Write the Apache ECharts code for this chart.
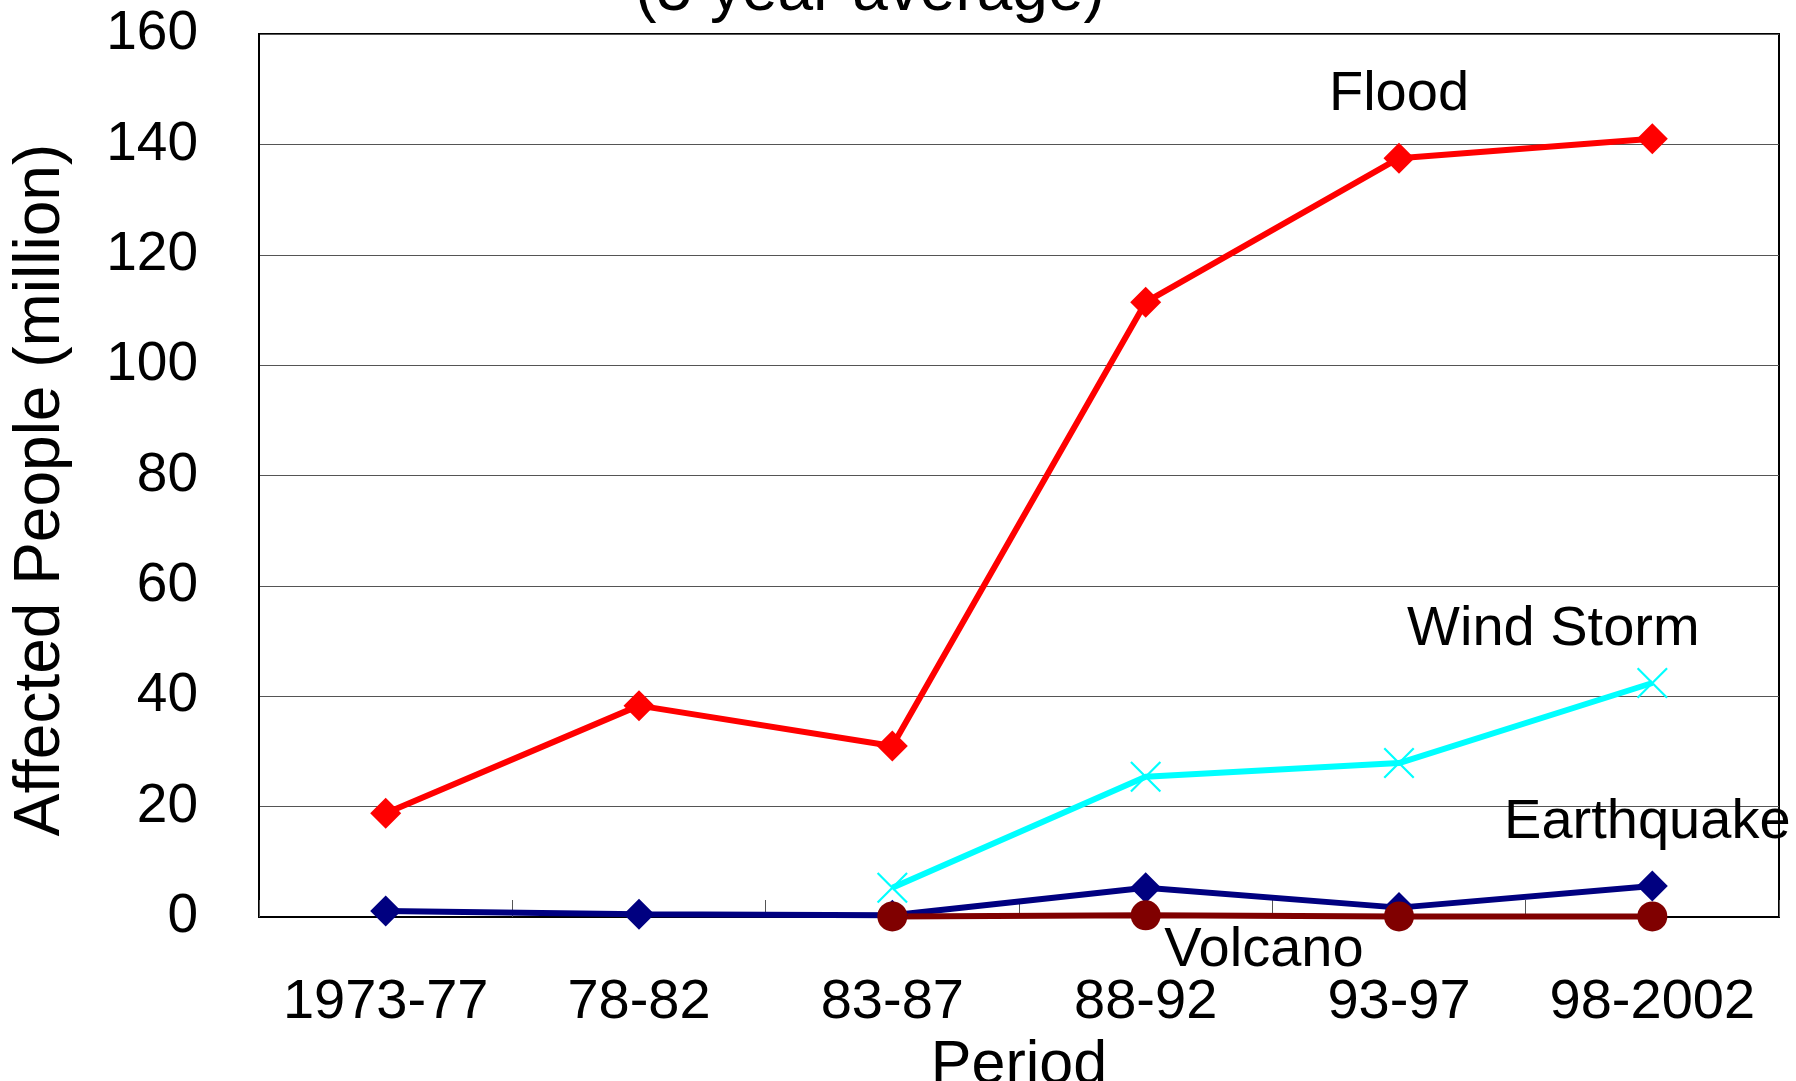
<!DOCTYPE html>
<html>
<head>
<meta charset="utf-8">
<script src="https://cdn.jsdelivr.net/npm/echarts@6/dist/echarts.min.js"></script>
<style>
html,body{margin:0;padding:0;background:#fff;}
#chart{width:1796px;height:1081px;}
</style>
</head>
<body>
<div id="chart"></div>
<script>
var periods = ['1973-77', '78-82', '83-87', '88-92', '93-97', '98-2002'];
var flood = [18.8, 38.3, 31.0, 111.4, 137.5, 141.0];
var windStorm = ['-', '-', 5.3, 25.4, 27.9, 42.4];
var earthquake = [1.1, 0.5, 0.3, 5.3, 1.7, 5.6];
var volcano = ['-', '-', 0.1, 0.3, 0.1, 0.1];
var yTicks = [0, 20, 40, 60, 80, 100, 120, 140, 160];

var FONT = "'Liberation Sans', Arial, sans-serif";
var xMark = 'path://M0,5 L5,0 L100,95 L95,100 Z M95,0 L100,5 L5,100 L0,95 Z';

function labelled(arr, idx, offset) {
  return arr.map(function (v, i) {
    if (i !== idx) return v;
    return {
      value: v,
      label: {
        show: true, position: 'inside', offset: offset,
        formatter: '{a}', color: '#000', fontSize: 56, fontFamily: FONT
      }
    };
  });
}

var chart = echarts.init(document.getElementById('chart'), null, {renderer: 'canvas'});
chart.setOption({
  animation: false,
  backgroundColor: '#fff',
  graphic: [{
    type: 'text', x: 870, y: -8, silent: true,
    style: {text: '(5 year average)', fontSize: 64, fontFamily: FONT, fill: '#000',
            align: 'center', verticalAlign: 'middle'}
  }],
  grid: {left: 259, right: 17, top: 34, bottom: 164, show: true, containLabel: false,
         outerBoundsMode: 'none',
         borderColor: '#000', borderWidth: 2, backgroundColor: 'transparent'},
  xAxis: {
    type: 'category', data: periods, boundaryGap: true,
    name: 'Period', nameLocation: 'middle', nameGap: 106,
    nameTextStyle: {fontSize: 61, fontFamily: FONT, color: '#000'},
    axisLine: {show: true, lineStyle: {color: '#000', width: 2}},
    axisTick: {show: true, inside: true, length: 17, interval: 0, lineStyle: {color: '#555', width: 1}},
    axisLabel: {fontSize: 56, fontFamily: FONT, color: '#000', margin: 58, interval: 0, hideOverlap: false},
    splitLine: {show: false}
  },
  yAxis: {
    type: 'value', min: yTicks[0], max: yTicks[yTicks.length - 1], interval: yTicks[1] - yTicks[0],
    name: 'Affected People (million)', nameLocation: 'middle', nameGap: 186,
    nameTextStyle: {fontSize: 64, fontFamily: FONT, color: '#000', padding: [0, 29, 0, 0]},
    axisLine: {show: true, lineStyle: {color: '#000', width: 2}},
    axisTick: {show: false},
    axisLabel: {fontSize: 55, fontFamily: FONT, color: '#000', margin: 61},
    splitLine: {show: true, lineStyle: {color: '#555', width: 1}}
  },
  series: [
    {
      name: 'Flood', type: 'line', data: labelled(flood, 4, [0, -64]),
      symbol: 'diamond', symbolSize: 31, showAllSymbol: true,
      lineStyle: {color: '#ff0000', width: 6}, itemStyle: {color: '#ff0000'}
    },
    {
      name: 'Earthquake', type: 'line', data: labelled(earthquake, 5, [-5, -64]),
      symbol: 'diamond', symbolSize: 31, showAllSymbol: true,
      lineStyle: {color: '#000080', width: 6}, itemStyle: {color: '#000080'}
    },
    {
      name: 'Wind Storm', type: 'line', data: labelled(windStorm, 5, [-99, -53]),
      symbol: xMark, symbolSize: 31, showAllSymbol: true,
      lineStyle: {color: '#00ffff', width: 6}, itemStyle: {color: '#00ffff'}
    },
    {
      name: 'Volcano', type: 'line', data: labelled(volcano, 4, [-135, 34]),
      symbol: 'circle', symbolSize: 30, showAllSymbol: true,
      lineStyle: {color: '#800000', width: 6}, itemStyle: {color: '#800000'}
    }
  ]
});
</script>
</body>
</html>
